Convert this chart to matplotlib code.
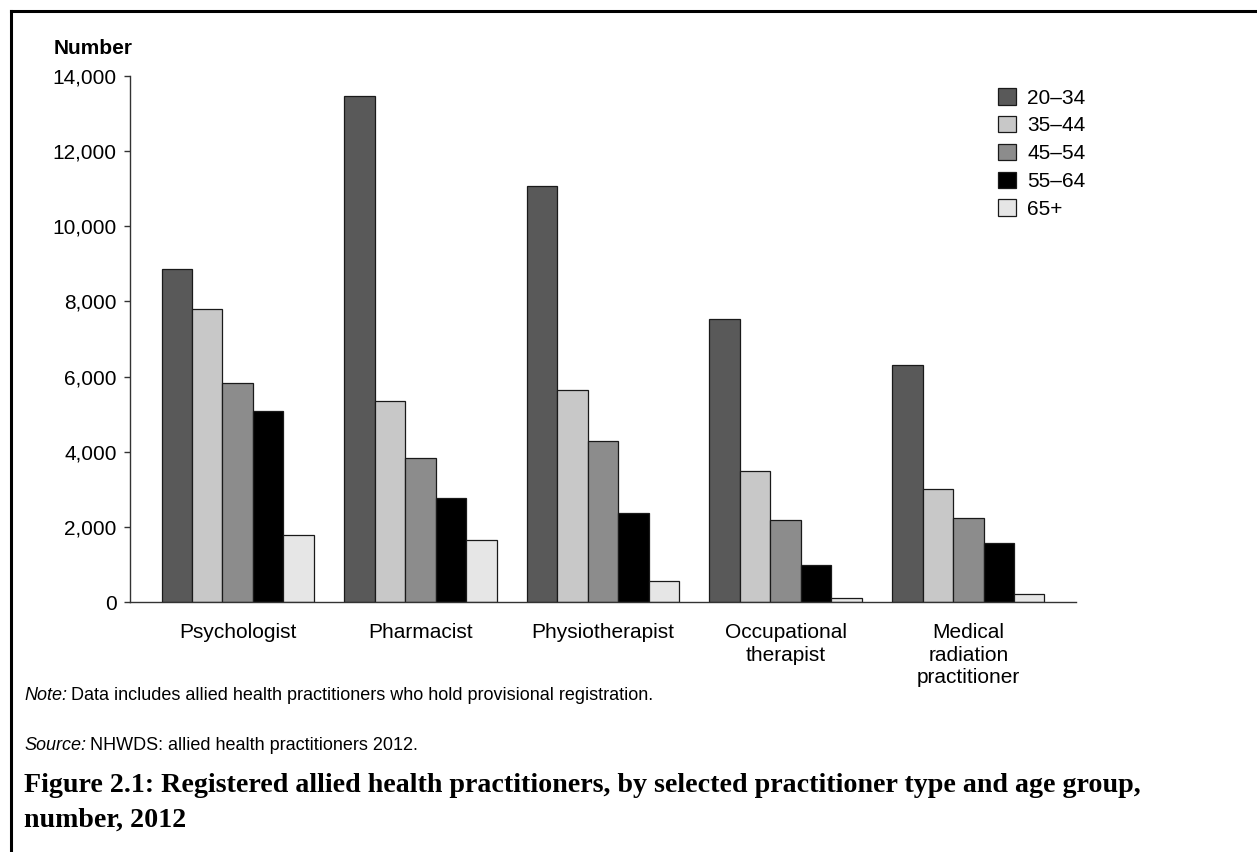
#!/usr/bin/env python3
"""
Registered allied health practitioners by practitioner type and age group, 2012.
Grouped bar chart redrawn from the AIHW figure 2.1.
"""

import matplotlib
matplotlib.use("Agg")
import matplotlib.pyplot as plt
import numpy as np
from matplotlib.lines import Line2D
from matplotlib.ticker import FuncFormatter

W, H, DPI = 1257, 852, 100

categories = [
    "Psychologist",
    "Pharmacist",
    "Physiotherapist",
    "Occupational\ntherapist",
    "Medical\nradiation\npractitioner",
]
age_groups = ["20–34", "35–44", "45–54", "55–64", "65+"]

age_20_34 = [8860, 13480, 11080, 7520, 6300]
age_35_44 = [7810, 5340, 5640, 3500, 3000]
age_45_54 = [5840, 3830, 4290, 2180, 2240]
age_55_64 = [5080, 2780, 2380, 980, 1570]
age_65_plus = [1770, 1650, 550, 110, 220]

series = [age_20_34, age_35_44, age_45_54, age_55_64, age_65_plus]
colours = ["#595959", "#c8c8c8", "#8c8c8c", "#000000", "#e6e6e6"]

y_ticks = [0, 2000, 4000, 6000, 8000, 10000, 12000, 14000]

SANS = ["Liberation Sans", "DejaVu Sans"]
SERIF = ["Liberation Serif", "DejaVu Serif"]

plt.rcParams["font.family"] = SANS


def px(x, y):
    # pixel position (top-left origin) -> figure fraction
    return x / W, 1 - y / H


fig = plt.figure(figsize=(W / DPI, H / DPI), dpi=DPI)
ax_left, ax_right, ax_top, ax_bottom = 130, 1076, 76, 602
ax = fig.add_axes([ax_left / W, 1 - ax_bottom / H,
                   (ax_right - ax_left) / W, (ax_bottom - ax_top) / H])

x = np.arange(len(categories))
bar_w = 0.167
offsets = (np.arange(len(series)) - 2) * bar_w
for vals, off, col, lab in zip(series, offsets, colours, age_groups):
    ax.bar(x + off, vals, width=bar_w, color=col, edgecolor="#1a1a1a",
           linewidth=0.9, label=lab, zorder=2)

ax.set_xlim(-0.59, 4.59)
ax.set_ylim(0, 14000)
ax.set_yticks(y_ticks)
ax.yaxis.set_major_formatter(FuncFormatter(lambda v, _: f"{int(v):,}"))
ax.set_xticks(x)
ax.set_xticklabels(categories, linespacing=1.25)

for s in ("top", "right"):
    ax.spines[s].set_visible(False)
for s in ("left", "bottom"):
    ax.spines[s].set_color("#333333")
    ax.spines[s].set_linewidth(1.0)

ax.tick_params(axis="y", length=4.5, width=1.0, color="#333333", pad=5,
               labelsize=15)
ax.tick_params(axis="x", length=0, pad=15, labelsize=15)

leg = fig.legend(loc="upper left", bbox_to_anchor=px(998, 88), frameon=False,
                 fontsize=15, handlelength=0.85, handleheight=0.85,
                 handletextpad=0.55, labelspacing=0.4, borderpad=0,
                 borderaxespad=0)

fig.text(*px(54, 49), "Number", fontsize=15, fontweight="bold",
         ha="left", va="center")


def note_line(y, lead, rest, size=13):
    # italic lead-in followed by plain text on the same baseline
    yy = px(0, y)[1]
    t = fig.text(24 / W, yy, lead, fontsize=size, style="italic", va="center")
    fig.canvas.draw()
    bb = t.get_window_extent()
    fig.text(bb.x1 / W + 0.003, yy, rest, fontsize=size, va="center")


note_line(695, "Note:",
          "Data includes allied health practitioners who hold provisional registration.")
note_line(745, "Source:", "NHWDS: allied health practitioners 2012.")

fig.text(*px(24, 786),
         "Figure 2.1: Registered allied health practitioners, by selected practitioner type and age group,",
         fontsize=20.2, fontweight="bold", family=SERIF, va="center")
fig.text(*px(24, 820), "number, 2012", fontsize=20.2, fontweight="bold",
         family=SERIF, va="center")

# page frame (left and top edges)
fig.add_artist(Line2D([10.5 / W, 10.5 / W], [0, 1 - 10.5 / H],
                      transform=fig.transFigure, color="black", linewidth=2.2,
                      solid_capstyle="projecting"))
fig.add_artist(Line2D([10.5 / W, 1], [1 - 10.5 / H, 1 - 10.5 / H],
                      transform=fig.transFigure, color="black", linewidth=2.2,
                      solid_capstyle="projecting"))

fig.savefig("out.png", dpi=DPI)
